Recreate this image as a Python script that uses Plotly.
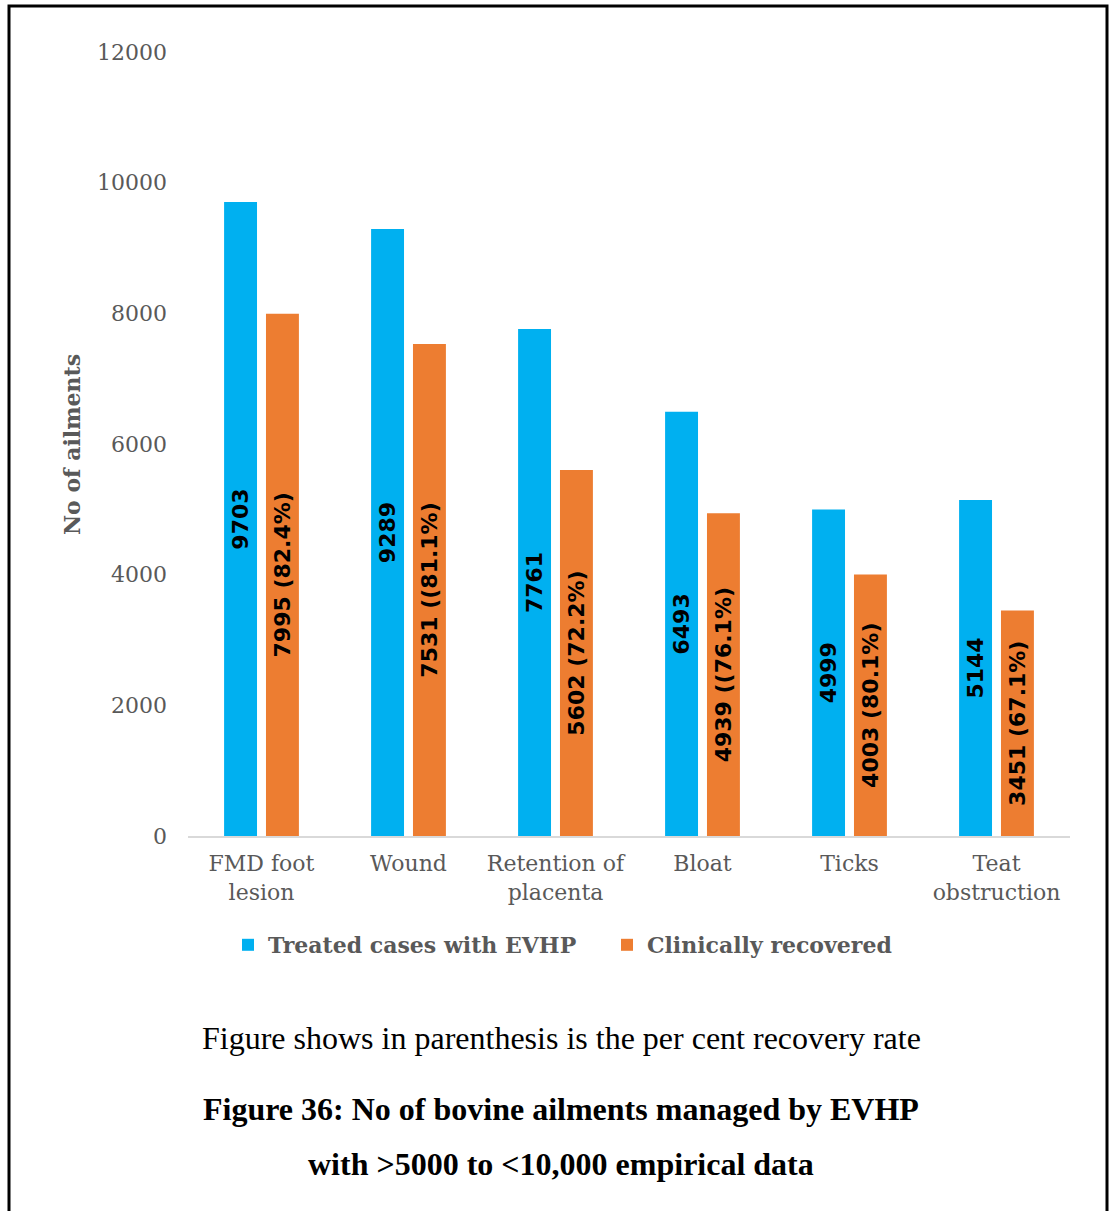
import plotly.graph_objects as go

categories = ["FMD foot<br>lesion", "Wound", "Retention of<br>placenta", "Bloat", "Ticks", "Teat<br>obstruction"]
treated = [9703, 9289, 7761, 6493, 4999, 5144]
recovered = [7995, 7531, 5602, 4939, 4003, 3451]
recovered_labels = ["7995 (82.4%)", "7531 ((81.1%)", "5602 (72.2%)", "4939 ((76.1%)",
                    "4003 (80.1%)", "3451 (67.1%)"]
treated_labels = [str(v) for v in treated]
y_ticks = [0, 2000, 4000, 6000, 8000, 10000, 12000]
y_tick_text = [str(v) for v in y_ticks]

W, H = 1110, 1211
L, R, T, B = 188, 40, 52, 375
pw, ph = W - L - R, H - T - B

def px(x):
    return (x - L) / pw

def py(y):
    return (H - B - y) / ph

label_font = dict(family="DejaVu Sans", size=22, color="black")

fig = go.Figure()
fig.add_trace(go.Bar(
    x=categories, y=treated, name="Treated cases with EVHP",
    marker=dict(color="#00B0F0", line=dict(width=0)),
    text=treated_labels, textposition="inside", insidetextanchor="middle",
    textangle=-90, textfont=label_font, constraintext="none",
))
fig.add_trace(go.Bar(
    x=categories, y=recovered, name="Clinically recovered",
    marker=dict(color="#ED7D31", line=dict(width=0)),
    text=recovered_labels, textposition="inside", insidetextanchor="middle",
    textangle=-90, textfont=label_font, constraintext="none",
))

fig.update_traces(texttemplate="<b>%{text}</b>", cliponaxis=False)

fig.update_layout(
    width=W, height=H,
    margin=dict(l=L, r=R, t=T, b=B, autoexpand=False),
    paper_bgcolor="white", plot_bgcolor="white",
    barmode="group", bargap=0.43, bargroupgap=0.214,
    uniformtext=dict(minsize=22, mode="show"),
    font=dict(family="DejaVu Serif", color="#595959"),
    xaxis=dict(
        showgrid=False, showline=True, linecolor="#D9D9D9", linewidth=2,
        ticks="", ticklabelstandoff=7,
        tickfont=dict(family="DejaVu Serif", size=22, color="#595959"),
    ),
    yaxis=dict(
        range=[0, 12000], tickvals=y_ticks, ticktext=y_tick_text,
        showgrid=False, showline=False,
        zeroline=False, ticks="", ticklabelstandoff=20,
        tickfont=dict(family="DejaVu Serif", size=22, color="#595959"),
    ),
    legend=dict(
        orientation="h", x=px(607), xanchor="center", y=py(945), yanchor="middle",
        font=dict(family="DejaVu Serif", size=22, color="#595959", weight="bold"),
        itemwidth=30, tracegroupgap=0, traceorder="normal",
        entrywidth=334, entrywidthmode="pixels",
    ),
    showlegend=True,
)

fig.add_annotation(
    x=px(72), y=py(445), xref="paper", yref="paper", text="<b>No of ailments</b>",
    textangle=-90, showarrow=False, xanchor="center", yanchor="middle",
    font=dict(family="DejaVu Serif", size=22, color="#595959"),
)
fig.add_annotation(
    x=px(561), y=py(1038), xref="paper", yref="paper",
    text="Figure shows in parenthesis is the per cent recovery rate",
    showarrow=False, xanchor="center", yanchor="middle",
    font=dict(family="Liberation Serif", size=32, color="black"),
)
fig.add_annotation(
    x=px(561), y=py(1109), xref="paper", yref="paper",
    text="<b>Figure 36: No of bovine ailments managed by EVHP</b>",
    showarrow=False, xanchor="center", yanchor="middle",
    font=dict(family="Liberation Serif", size=32, color="black"),
)
fig.add_annotation(
    x=px(561), y=py(1164), xref="paper", yref="paper",
    text="<b>with >5000 to <10,000 empirical data</b>",
    showarrow=False, xanchor="center", yanchor="middle",
    font=dict(family="Liberation Serif", size=32, color="black"),
)

fig.add_shape(
    type="rect", xref="paper", yref="paper",
    x0=px(9), x1=px(1107), y0=py(1220), y1=py(6),
    line=dict(color="black", width=3), fillcolor="rgba(0,0,0,0)", layer="below",
)

fig.write_html("out.html")
